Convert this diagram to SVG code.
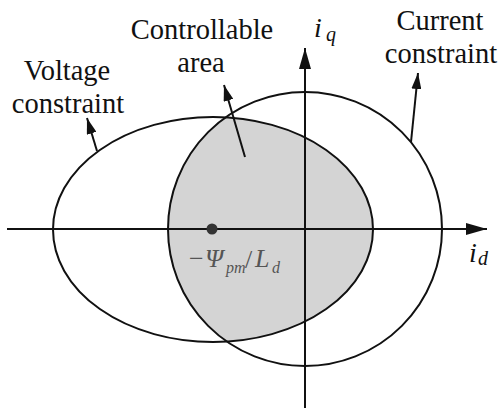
<svg xmlns="http://www.w3.org/2000/svg" width="500" height="409" viewBox="0 0 500 409" font-family="'Liberation Serif', 'Times New Roman', serif">
<style>
.t{font-size:28.5px;fill:#111}
.it{font-style:italic;fill:#111}
.lbl{fill:#555}
.curve{fill:none;stroke:#111;stroke-width:2}
.ln{stroke:#111;stroke-width:2;fill:none}
</style>
<defs>
<marker id="ah" viewBox="0 0 16 10" refX="16" refY="5" markerWidth="16" markerHeight="10" markerUnits="userSpaceOnUse" orient="auto">
<path d="M0,0 L16,5 L0,10 z" fill="#111"/>
</marker>
<marker id="axh" viewBox="0 0 21 12" refX="21" refY="6" markerWidth="21" markerHeight="12" markerUnits="userSpaceOnUse" orient="auto">
<path d="M0,0 L21,6 L0,12 z" fill="#111"/>
</marker>
<clipPath id="circClip"><circle cx="305" cy="229" r="137"/></clipPath>
</defs>
<rect width="500" height="409" fill="#fff"/>
<g id="controllable-area">
<ellipse cx="213" cy="229.5" rx="160" ry="112.5" fill="#d4d4d4" clip-path="url(#circClip)"/>
</g>
<g id="axes">
<line class="ln" x1="7" y1="229" x2="487" y2="229" marker-end="url(#axh)"/>
<line class="ln" x1="305" y1="408" x2="305" y2="48" marker-end="url(#axh)"/>
</g>
<g id="voltage-constraint">
<ellipse class="curve" cx="213" cy="229.5" rx="160" ry="112.5"/>
</g>
<g id="current-constraint">
<circle class="curve" cx="305" cy="229" r="137"/>
</g>
<g id="center-point">
<circle cx="212" cy="229" r="5.5" fill="#333"/>
<text class="lbl" x="189" y="267" font-size="26">−</text>
<text class="lbl" x="205" y="267" font-size="26" font-style="italic">Ψ</text>
<text class="lbl" x="226" y="273" font-size="16" font-style="italic">pm</text>
<text class="lbl" x="245" y="268" font-size="26">/</text>
<text class="lbl" x="255" y="267" font-size="26" font-style="italic">L</text>
<text class="lbl" x="272" y="273" font-size="16" font-style="italic">d</text>
</g>
<g id="connectors">
<line class="ln" x1="97" y1="151" x2="87" y2="118" marker-end="url(#ah)"/>
<line class="ln" x1="245" y1="157" x2="224" y2="85" marker-end="url(#ah)"/>
<line class="ln" x1="411" y1="142" x2="418" y2="73" marker-end="url(#ah)"/>
</g>
<g id="label-controllable">
<text class="t" x="202" y="39" text-anchor="middle">Controllable</text>
<text class="t" x="201" y="72" text-anchor="middle">area</text>
</g>
<g id="label-voltage">
<text class="t" x="67" y="80" text-anchor="middle">Voltage</text>
<text class="t" x="68" y="113" text-anchor="middle">constraint</text>
</g>
<g id="label-current">
<text class="t" x="440" y="30" text-anchor="middle">Current</text>
<text class="t" x="441" y="63" text-anchor="middle">constraint</text>
</g>
<g id="label-iq">
<text class="it" x="314" y="37" font-size="28">i</text>
<text class="it" x="326" y="41" font-size="20">q</text>
</g>
<g id="label-id">
<text class="it" x="469" y="262" font-size="28">i</text>
<text class="it" x="478" y="265" font-size="20">d</text>
</g>
</svg>
